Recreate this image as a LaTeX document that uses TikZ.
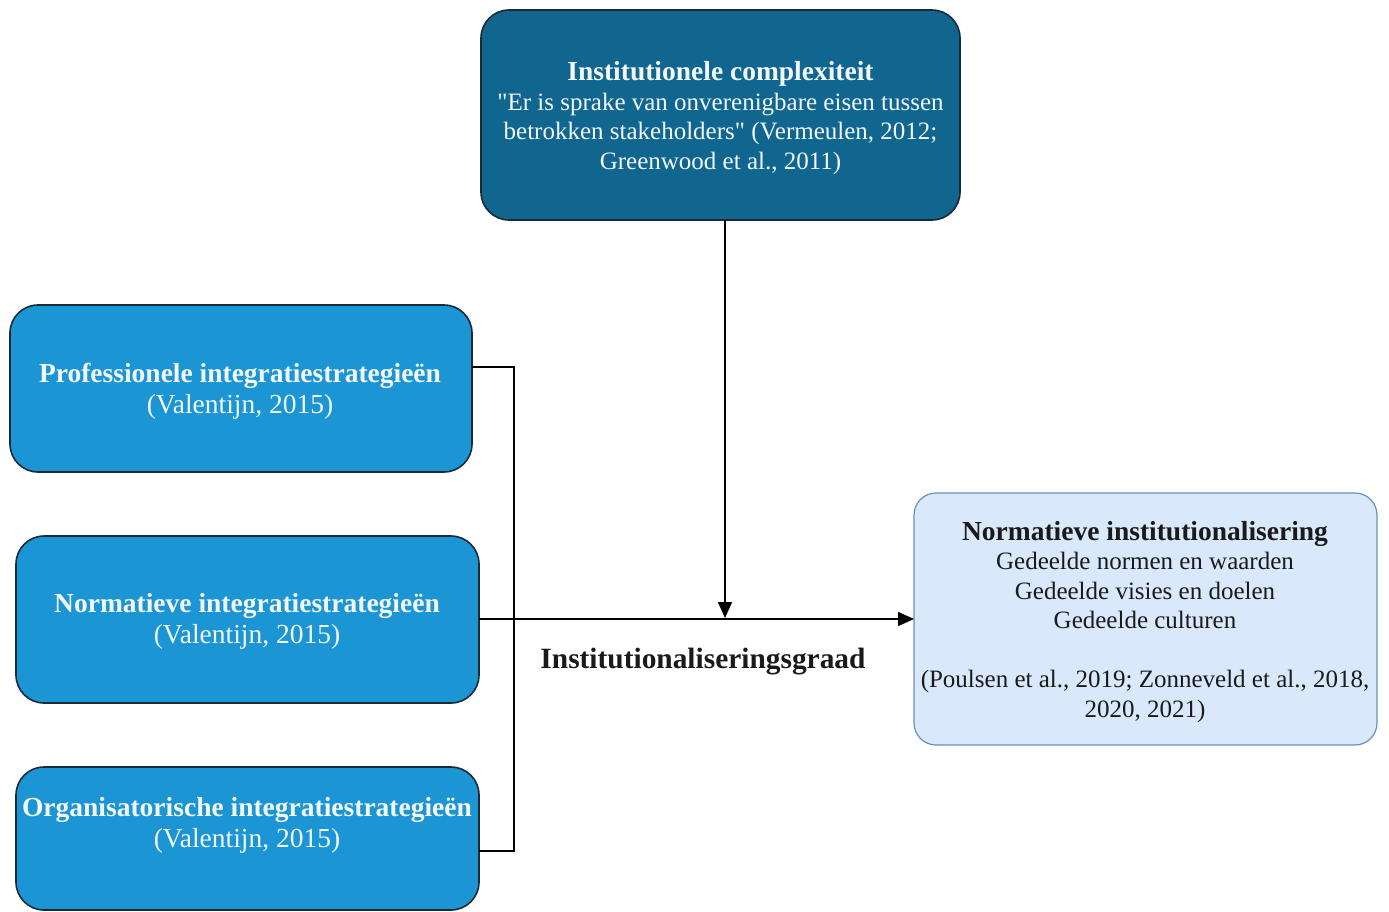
\documentclass[tikz,border=0pt]{standalone}
\usepackage{fontspec}
\setmainfont{Liberation Serif}
\newfontfamily\plainserif{Liberation Serif}
\usetikzlibrary{arrows.meta}
\definecolor{darkblue}{HTML}{10668F}
\definecolor{midblue}{HTML}{1B95D4}
\definecolor{paleblue}{HTML}{DAE8FC}
\definecolor{paleedge}{HTML}{6C8EBF}
\definecolor{boxedge}{HTML}{1A2B38}
\definecolor{lighttext}{HTML}{F2F8FC}
\definecolor{darktext}{HTML}{1A1A1A}
\newcommand{\hd}[1]{{\fontsize{27.5}{29.5}\selectfont\bfseries #1}}
\newcommand{\dq}{{\plainserif"}}
\begin{document}
\begin{tikzpicture}[x=1pt,y=-1pt,
  txt/.style={font=\fontsize{25}{29.5}\selectfont},
  bigtxt/.style={font=\fontsize{27.5}{31}\selectfont},
  darkbox/.style={draw=boxedge, line width=1.6pt, fill=darkblue, rounded corners=28pt},
  stratbox/.style={draw=boxedge, line width=1.6pt, fill=midblue, rounded corners=28pt},
  palebox/.style={draw=paleedge, line width=1.2pt, fill=paleblue, rounded corners=22pt},
  wire/.style={draw=black, line width=1.6pt},
  tip/.style={-{Triangle[length=16pt,width=14pt]}}
]
\useasboundingbox (0,0) rectangle (1389,911);

% boxes
\path[darkbox] (481,10) rectangle (960,220);
\node[txt, text=lighttext, align=center] (cx) at (720.5,118)
  {\hd{Institutionele complexiteit}\\
   \dq Er is sprake van onverenigbare eisen tussen\\
   betrokken stakeholders\dq{} (Vermeulen, 2012;\\
   Greenwood et al., 2011)};
\coordinate (cxb) at (725,220);

\path[stratbox] (10,305) rectangle (472,472);
\node[bigtxt, text=lighttext, align=center] (pro) at (240,391)
  {\textbf{Professionele integratiestrategieën}\\(Valentijn, 2015)};
\coordinate (proR) at (472,367);

\path[stratbox] (16,536) rectangle (479,703);
\node[bigtxt, text=lighttext, align=center] (nor) at (247,621)
  {\textbf{Normatieve integratiestrategieën}\\(Valentijn, 2015)};
\coordinate (norR) at (479,619);

\path[stratbox] (16,767) rectangle (479,910);
\node[bigtxt, text=lighttext, align=center] (org) at (247,825)
  {\textbf{Organisatorische integratiestrategieën}\\(Valentijn, 2015)};
\coordinate (orgR) at (479,851);

\path[palebox] (914,493) rectangle (1377,745);
\node[txt, text=darktext, align=center] (ni) at (1145,622)
  {\hd{Normatieve institutionalisering}\\
   Gedeelde normen en waarden\\
   Gedeelde visies en doelen\\
   Gedeelde culturen\\[29.5pt]
   (Poulsen et al., 2019; Zonneveld et al., 2018,\\
   2020, 2021)};
\coordinate (niL) at (914,619);

% connectors
\draw[wire] (proR) -- (514,367) -- (514,851) -- (orgR);
\draw[wire, tip] (norR) -- (niL);
\draw[wire, tip] (cxb) -- (725,618);

\node[font=\fontsize{29.4}{32}\selectfont\bfseries, text=darktext] (graad) at (703,662)
  {Institutionaliseringsgraad};
\end{tikzpicture}
\end{document}
